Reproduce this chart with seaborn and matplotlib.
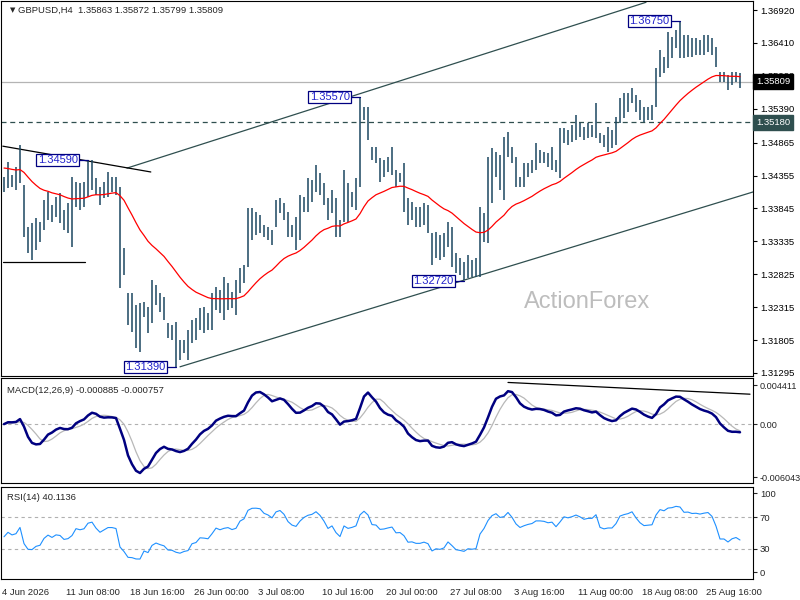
import numpy as np
import pandas as pd
import matplotlib
matplotlib.use("Agg")
import matplotlib.pyplot as plt
import seaborn as sns

# ---------------- data (8-hour bars, i.e. pairs of H4 bars) ----------------
header_text = "GBPUSD,H4  1.35863 1.35872 1.35799 1.35809"
macd_text = "MACD(12,26,9) -0.000885 -0.000757"
rsi_text = "RSI(14) 40.1136"
last_close = 1.35809
level_line = 1.35180
ma_seed = 1.3449
rsi_seed = 45.0

highs = [
    1.34326, 1.34569, 1.34362, 1.34492, 1.34827, 1.34207, 1.33562, 1.33613, 1.33691, 1.33639,
    1.33975, 1.34104, 1.33897, 1.34027, 1.34078, 1.33820, 1.33923, 1.34337, 1.34259, 1.34233,
    1.34259, 1.34595, 1.34595, 1.34311, 1.34182, 1.34259, 1.34414, 1.34337, 1.34337, 1.34182,
    1.33226, 1.32528, 1.32528, 1.32347, 1.32373, 1.32399, 1.32322, 1.32735, 1.32657, 1.32528,
    1.32476, 1.32063, 1.32037, 1.32089, 1.31805, 1.31805, 1.31960, 1.32115, 1.32141, 1.32296,
    1.32322, 1.32218, 1.32528, 1.32632, 1.32580, 1.32787, 1.32683, 1.32554, 1.32735, 1.32916,
    1.32967, 1.33846, 1.33846, 1.33794, 1.33742, 1.33587, 1.33562, 1.33510, 1.33975, 1.34001,
    1.33923, 1.33794, 1.33587, 1.33717, 1.34052, 1.34027, 1.34311, 1.34285, 1.34517, 1.34388,
    1.34233, 1.34001, 1.34130, 1.34001, 1.33665, 1.34440, 1.34233, 1.34104, 1.34311, 1.35577,
    1.35422, 1.35422, 1.34802, 1.34802, 1.34621, 1.34595, 1.34647, 1.34802, 1.34440, 1.34388,
    1.34543, 1.34001, 1.33949, 1.33872, 1.33872, 1.33923, 1.33897, 1.33458, 1.33484, 1.33432,
    1.33458, 1.33639, 1.33562, 1.33148, 1.33071, 1.33019, 1.33122, 1.33045, 1.33071, 1.33872,
    1.33768, 1.34647, 1.34776, 1.34724, 1.34672, 1.34957, 1.35034, 1.34802, 1.34647, 1.34337,
    1.34543, 1.34543, 1.34595, 1.34853, 1.34750, 1.34724, 1.34698, 1.34802, 1.34595, 1.35086,
    1.35086, 1.35060, 1.35137, 1.35292, 1.35163, 1.35112, 1.35163, 1.35137, 1.35473, 1.35008,
    1.34982, 1.35112, 1.35060, 1.35267, 1.35551, 1.35628, 1.35628, 1.35706, 1.35602, 1.35525,
    1.35422, 1.35422, 1.35447, 1.36016, 1.36300, 1.36197, 1.36584, 1.36507, 1.36610, 1.36739,
    1.36532, 1.36532, 1.36481, 1.36481, 1.36455, 1.36532, 1.36532, 1.36481, 1.36352, 1.35964,
    1.35964, 1.35912, 1.35964, 1.35964, 1.35938,
]
lows = [
    1.34104, 1.34156, 1.34182, 1.34130, 1.34233, 1.33407, 1.33148, 1.33045, 1.33200, 1.33329,
    1.33510, 1.33665, 1.33639, 1.33717, 1.33613, 1.33510, 1.33458, 1.33252, 1.33872, 1.33820,
    1.33872, 1.34027, 1.34130, 1.34052, 1.33897, 1.34001, 1.34027, 1.34104, 1.34052, 1.32606,
    1.32812, 1.32037, 1.31934, 1.31675, 1.31624, 1.32166, 1.31908, 1.32063, 1.32347, 1.32244,
    1.32115, 1.31830, 1.31805, 1.31391, 1.31495, 1.31598, 1.31495, 1.31753, 1.31805, 1.31960,
    1.31908, 1.31960, 1.31960, 1.32270, 1.32218, 1.32115, 1.32270, 1.32296, 1.32192, 1.32528,
    1.32683, 1.32941, 1.33355, 1.33432, 1.33458, 1.33407, 1.33355, 1.33277, 1.33562, 1.33768,
    1.33665, 1.33407, 1.33407, 1.33200, 1.33355, 1.33794, 1.33794, 1.33949, 1.34104, 1.34052,
    1.33897, 1.33665, 1.33768, 1.33407, 1.33407, 1.33639, 1.33639, 1.33872, 1.33820, 1.34182,
    1.35215, 1.34905, 1.34595, 1.34543, 1.34259, 1.34337, 1.34414, 1.34362, 1.34182, 1.34259,
    1.33794, 1.33587, 1.33665, 1.33562, 1.33562, 1.33587, 1.33458, 1.32967, 1.33071, 1.33045,
    1.33097, 1.33252, 1.32941, 1.32838, 1.32812, 1.32735, 1.32761, 1.32786, 1.32786, 1.32786,
    1.33329, 1.33303, 1.33923, 1.34337, 1.34130, 1.33975, 1.34647, 1.34543, 1.34182, 1.34182,
    1.34182, 1.34337, 1.34388, 1.34440, 1.34543, 1.34543, 1.34492, 1.34440, 1.34414, 1.34311,
    1.34853, 1.34827, 1.34879, 1.34905, 1.34957, 1.34905, 1.34931, 1.34957, 1.34931, 1.34853,
    1.34802, 1.34724, 1.34776, 1.34827, 1.35163, 1.35241, 1.35344, 1.35473, 1.35344, 1.35215,
    1.35189, 1.35215, 1.35215, 1.35422, 1.35887, 1.35938, 1.36016, 1.36171, 1.36326, 1.36171,
    1.36171, 1.36197, 1.36197, 1.36222, 1.36222, 1.36222, 1.36274, 1.36222, 1.36042, 1.35809,
    1.35809, 1.35680, 1.35757, 1.35809, 1.35706,
]

price_ticks = [1.36920, 1.36410, 1.35900, 1.35390, 1.34865, 1.34355,
               1.33845, 1.33335, 1.32825, 1.32315, 1.31805, 1.31295]
date_labels = ["4 Jun 2026", "11 Jun 08:00", "18 Jun 16:00", "26 Jun 00:00",
               "3 Jul 08:00", "10 Jul 16:00", "20 Jul 00:00", "27 Jul 08:00",
               "3 Aug 16:00", "11 Aug 00:00", "18 Aug 08:00", "25 Aug 16:00"]
macd_ticks = [0.004411, 0.0, -0.006043]
macd_tick_labels = ["0.004411", "0.00", "-0.006043"]
rsi_ticks = [100, 70, 30, 0]

# swing labels (bar index, value)
swing_bars = [21, 43, 89, 115, 169]
swing_values = [1.34590, 1.31390, 1.35570, 1.32720, 1.36750]

# hand-drawn lines (bar index, price)
upper_channel = ([30.75, 160.5], [1.3447, 1.3704])
lower_channel = ([44.0, 187.25], [1.3139, 1.3410])
left_trend = ([-0.3, 36.7], [1.3481, 1.3441])
left_flat = ([-0.3, 20.25], [1.3302, 1.3302])
macd_trend = ([126.0, 186.5], [0.00472, 0.00339])

# ---------------- indicators ----------------
df = pd.DataFrame({"high": highs, "low": lows})
df["bar"] = np.arange(len(df))
df["mid"] = (df["high"] + df["low"]) / 2

# moving average (exponential, seeded with the value shown at the left edge)
alpha = 2 / (28 + 1)
ma = []
prev = ma_seed
for m in df["mid"]:
    prev = prev + alpha * (m - prev)
    ma.append(prev)
df["ma"] = ma

# MACD on the 8h bars (periods halved)
fast = df["mid"].ewm(span=6, adjust=False).mean()
slow = df["mid"].ewm(span=13, adjust=False).mean()
df["macd"] = fast - slow
df["signal"] = df["macd"].rolling(5, min_periods=1).mean()

# Wilder RSI, seeded with the level at the left edge
delta = df["mid"].diff().fillna(0.0)
avg_move = delta.abs().mean()
up = avg_move * rsi_seed / 100
down = avg_move * (100 - rsi_seed) / 100
a_rsi = 1 / 11
rsi = []
for d in delta:
    up = up + a_rsi * (max(d, 0.0) - up)
    down = down + a_rsi * (max(-d, 0.0) - down)
    rsi.append(100 - 100 / (1 + up / down))
df["rsi"] = rsi

# ---------------- figure ----------------
sns.set_style("white")
plt.rcParams["font.family"] = ["Liberation Sans", "DejaVu Sans"]
plt.rcParams["axes.edgecolor"] = "black"
plt.rcParams["axes.linewidth"] = 0.8

fig = plt.figure(figsize=(8, 6), dpi=100)
ax_p = fig.add_axes([0.00125, 0.3733, 0.94, 0.625])
ax_m = fig.add_axes([0.00125, 0.1942, 0.94, 0.175])
ax_r = fig.add_axes([0.00125, 0.0342, 0.94, 0.1542])

bar_color = "#1b4660"
slate = "#2F4F4F"
xlim = (-0.75, 187.25)
tick_size = 6.8

# price panel
ax_p.vlines(df["bar"], df["low"], df["high"], color=bar_color, lw=1.1, zorder=3)
sns.lineplot(data=df, x="bar", y="ma", ax=ax_p, color="red", lw=0.9, zorder=4)
ax_p.axhline(last_close, color="#b4b4b4", lw=0.9, zorder=1)
ax_p.axhline(level_line, color=slate, lw=0.9, ls=(0, (4, 3)), zorder=2)
ax_p.plot(*upper_channel, color=slate, lw=0.9, zorder=2)
ax_p.plot(*lower_channel, color=slate, lw=0.9, zorder=2)
ax_p.plot(*left_trend, color="black", lw=0.9, zorder=2)
ax_p.plot(*left_flat, color="black", lw=0.9, zorder=2)

for b, v in zip(swing_bars, swing_values):
    ax_p.plot([b - 2.6, b], [v, v], color="#000080", lw=0.9, zorder=5)
    ax_p.text(b - 2.6, v, f"{v:.5f}", ha="right", va="center", fontsize=8,
              color="#2222cc", zorder=6,
              bbox=dict(boxstyle="square,pad=0.1", fc="white", ec="#000080", lw=0.9))

ax_p.text(0.012, 0.985, "\u25bc", transform=ax_p.transAxes, fontsize=5,
          ha="left", va="top", family="DejaVu Sans")
ax_p.text(0.023, 0.987, header_text, transform=ax_p.transAxes, fontsize=6.8,
          ha="left", va="top")
ax_p.text(0.78, 0.197, "ActionForex", transform=ax_p.transAxes, fontsize=17,
          color="#bdbdbd", ha="center", va="center", zorder=0)

ax_p.set_xlim(*xlim)
ax_p.set_ylim(1.31247, 1.37060)
ax_p.yaxis.tick_right()
ax_p.set_yticks(price_ticks)
ax_p.set_yticklabels([f"{t:.5f}" for t in price_ticks])
ax_p.set_xticks([])
ax_p.tick_params(axis="y", length=3, pad=2, labelsize=tick_size, colors="black")
ax_p.set_xlabel("")
ax_p.set_ylabel("")

ytr = ax_p.get_yaxis_transform()
ax_p.text(1.004, last_close, f"{last_close:.5f}", transform=ytr, ha="left", va="center",
          fontsize=tick_size, color="white", zorder=10,
          bbox=dict(boxstyle="square,pad=0.3", fc="black", ec="black"))
ax_p.text(1.004, level_line, f"{level_line:.5f}", transform=ytr, ha="left", va="center",
          fontsize=tick_size, color="white", zorder=10,
          bbox=dict(boxstyle="square,pad=0.3", fc=slate, ec=slate))

# MACD panel
ax_m.axhline(0, color="#b0b0b0", lw=0.8, ls=(0, (3, 3)))
sns.lineplot(data=df, x="bar", y="signal", ax=ax_m, color="#b8b8b8", lw=0.9)
sns.lineplot(data=df, x="bar", y="macd", ax=ax_m, color="#000080", lw=1.8)
ax_m.plot(*macd_trend, color="black", lw=0.9)
ax_m.text(0.008, 0.93, macd_text, transform=ax_m.transAxes, fontsize=6.8,
          ha="left", va="top")
ax_m.set_xlim(*xlim)
ax_m.set_ylim(-0.006723, 0.005170)
ax_m.yaxis.tick_right()
ax_m.set_yticks(macd_ticks)
ax_m.set_yticklabels(macd_tick_labels)
ax_m.set_xticks([])
ax_m.tick_params(axis="y", length=3, pad=1.5, labelsize=6.6)
ax_m.set_xlabel("")
ax_m.set_ylabel("")

# RSI panel
for lvl in (70, 30):
    ax_r.axhline(lvl, color="#b0b0b0", lw=0.8, ls=(0, (3, 3)))
sns.lineplot(data=df, x="bar", y="rsi", ax=ax_r, color="#1E90FF", lw=0.8)
ax_r.text(0.008, 0.93, rsi_text, transform=ax_r.transAxes, fontsize=6.8,
          ha="left", va="top")
ax_r.set_xlim(*xlim)
ax_r.set_ylim(-9, 108)
ax_r.yaxis.tick_right()
ax_r.set_yticks(rsi_ticks)
ax_r.set_yticklabels([str(t) for t in rsi_ticks])
ax_r.tick_params(axis="y", length=3, pad=2, labelsize=tick_size)
ax_r.set_xticks([16 * k - 0.5 for k in range(len(date_labels))])
ax_r.set_xticklabels(date_labels, ha="left")
ax_r.tick_params(axis="x", length=4, pad=2, labelsize=tick_size)
ax_r.set_xlabel("")
ax_r.set_ylabel("")

fig.savefig("out.png", dpi=100)
